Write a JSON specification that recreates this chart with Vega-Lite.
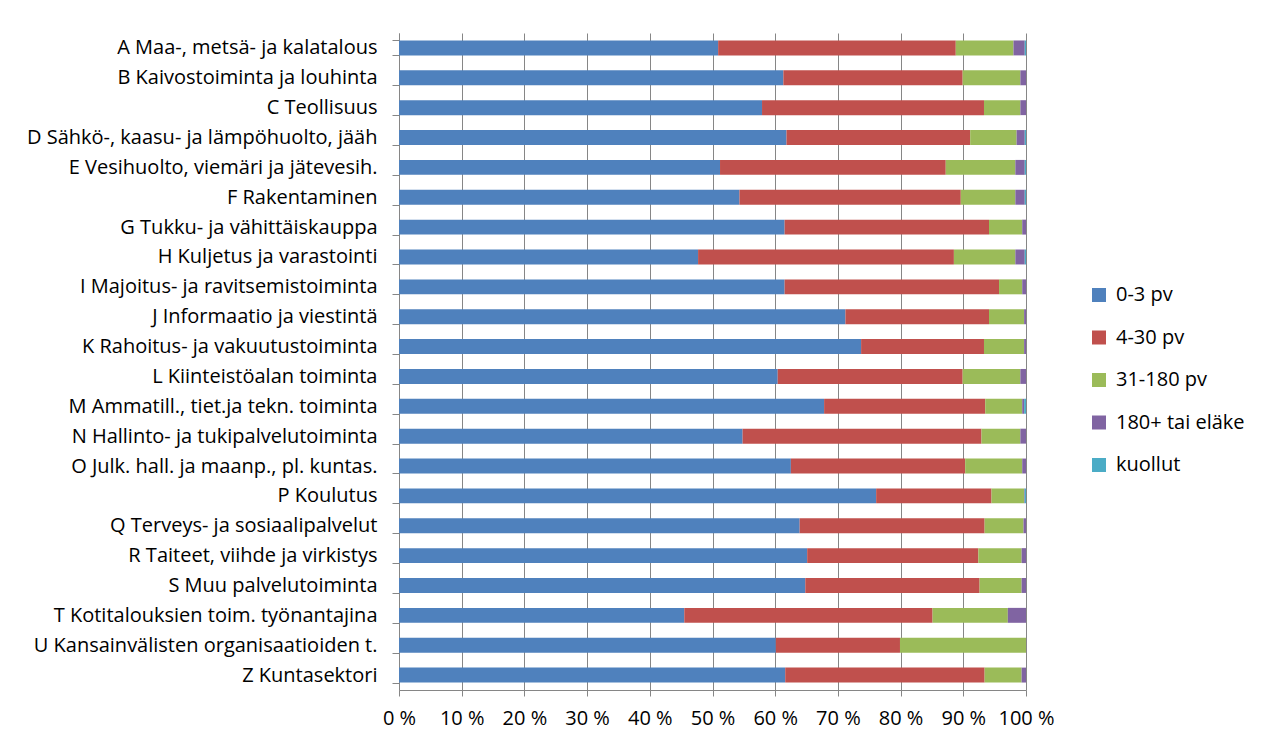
{
  "$schema": "https://vega.github.io/schema/vega-lite/v6.json",
  "autosize": {"type": "none"},
  "padding": {"left": 399, "top": 33, "right": 246, "bottom": 54},
  "width": 627,
  "height": 657,
  "background": "white",
  "config": {
    "view": {"stroke": null},
    "font": "Open Sans",
    "axis": {"labelFont": "Open Sans", "labelColor": "#000000", "labelFontSize": 20},
    "legend": {"labelFont": "Open Sans", "labelFontSize": 20, "labelColor": "#000000"}
  },
  "data": {
    "values": [
      {"c": "A Maa-, metsä- ja kalatalous", "0-3 pv": 50.9, "4-30 pv": 37.9, "31-180 pv": 9.2, "180+ tai eläke": 1.8, "kuollut": 0.2},
      {"c": "B Kaivostoiminta ja louhinta", "0-3 pv": 61.3, "4-30 pv": 28.6, "31-180 pv": 9.2, "180+ tai eläke": 0.9, "kuollut": 0.0},
      {"c": "C Teollisuus", "0-3 pv": 57.9, "4-30 pv": 35.4, "31-180 pv": 5.8, "180+ tai eläke": 0.9, "kuollut": 0.0},
      {"c": "D Sähkö-, kaasu- ja lämpöhuolto, jääh", "0-3 pv": 61.8, "4-30 pv": 29.3, "31-180 pv": 7.4, "180+ tai eläke": 1.3, "kuollut": 0.2},
      {"c": "E Vesihuolto, viemäri ja jätevesih.", "0-3 pv": 51.2, "4-30 pv": 36.0, "31-180 pv": 11.1, "180+ tai eläke": 1.5, "kuollut": 0.2},
      {"c": "F Rakentaminen", "0-3 pv": 54.3, "4-30 pv": 35.3, "31-180 pv": 8.7, "180+ tai eläke": 1.5, "kuollut": 0.2},
      {"c": "G Tukku- ja vähittäiskauppa", "0-3 pv": 61.5, "4-30 pv": 32.6, "31-180 pv": 5.3, "180+ tai eläke": 0.6, "kuollut": 0.0},
      {"c": "H Kuljetus ja varastointi", "0-3 pv": 47.7, "4-30 pv": 40.8, "31-180 pv": 9.8, "180+ tai eläke": 1.5, "kuollut": 0.2},
      {"c": "I Majoitus- ja ravitsemistoiminta", "0-3 pv": 61.5, "4-30 pv": 34.2, "31-180 pv": 3.7, "180+ tai eläke": 0.6, "kuollut": 0.0},
      {"c": "J Informaatio ja viestintä", "0-3 pv": 71.2, "4-30 pv": 22.9, "31-180 pv": 5.6, "180+ tai eläke": 0.3, "kuollut": 0.0},
      {"c": "K Rahoitus- ja vakuutustoiminta", "0-3 pv": 73.7, "4-30 pv": 19.6, "31-180 pv": 6.4, "180+ tai eläke": 0.3, "kuollut": 0.0},
      {"c": "L Kiinteistöalan toiminta", "0-3 pv": 60.4, "4-30 pv": 29.5, "31-180 pv": 9.2, "180+ tai eläke": 0.9, "kuollut": 0.0},
      {"c": "M Ammatill., tiet.ja tekn. toiminta", "0-3 pv": 67.8, "4-30 pv": 25.7, "31-180 pv": 5.9, "180+ tai eläke": 0.3, "kuollut": 0.3},
      {"c": "N Hallinto- ja tukipalvelutoiminta", "0-3 pv": 54.8, "4-30 pv": 38.1, "31-180 pv": 6.2, "180+ tai eläke": 0.9, "kuollut": 0.0},
      {"c": "O Julk. hall. ja maanp., pl. kuntas.", "0-3 pv": 62.5, "4-30 pv": 27.8, "31-180 pv": 9.1, "180+ tai eläke": 0.6, "kuollut": 0.0},
      {"c": "P Koulutus", "0-3 pv": 76.1, "4-30 pv": 18.4, "31-180 pv": 5.2, "180+ tai eläke": 0.1, "kuollut": 0.2},
      {"c": "Q Terveys- ja sosiaalipalvelut", "0-3 pv": 63.9, "4-30 pv": 29.5, "31-180 pv": 6.2, "180+ tai eläke": 0.4, "kuollut": 0.0},
      {"c": "R Taiteet, viihde ja virkistys", "0-3 pv": 65.1, "4-30 pv": 27.3, "31-180 pv": 6.9, "180+ tai eläke": 0.7, "kuollut": 0.0},
      {"c": "S Muu palvelutoiminta", "0-3 pv": 64.8, "4-30 pv": 27.8, "31-180 pv": 6.7, "180+ tai eläke": 0.7, "kuollut": 0.0},
      {"c": "T Kotitalouksien toim. työnantajina", "0-3 pv": 45.5, "4-30 pv": 39.6, "31-180 pv": 12.0, "180+ tai eläke": 2.9, "kuollut": 0.0},
      {"c": "U Kansainvälisten organisaatioiden t.", "0-3 pv": 60.1, "4-30 pv": 19.8, "31-180 pv": 20.1, "180+ tai eläke": 0.0, "kuollut": 0.0},
      {"c": "Z Kuntasektori", "0-3 pv": 61.6, "4-30 pv": 31.8, "31-180 pv": 5.9, "180+ tai eläke": 0.7, "kuollut": 0.0}
    ]
  },
  "transform": [
    {"fold": ["0-3 pv", "4-30 pv", "31-180 pv", "180+ tai eläke", "kuollut"], "as": ["luokka", "osuus"]},
    {"calculate": "indexof(['0-3 pv', '4-30 pv', '31-180 pv', '180+ tai eläke', 'kuollut'], datum.luokka)", "as": "jarjestys"}
  ],
  "mark": {"type": "bar"},
  "encoding": {
    "y": {
      "field": "c",
      "type": "nominal",
      "sort": null,
      "title": null,
      "scale": {"paddingInner": 0.5, "paddingOuter": 0.25},
      "axis": {
        "domainColor": "#868686",
        "tickColor": "#868686",
        "tickSize": 7,
        "tickBand": "extent",
        "labelPadding": 15,
        "labelLimit": 400,
        "grid": false
      }
    },
    "x": {
      "field": "osuus",
      "type": "quantitative",
      "stack": "normalize",
      "title": null,
      "scale": {"domain": [0, 1], "nice": false},
      "axis": {
        "values": [0, 0.1, 0.2, 0.3, 0.4, 0.5, 0.6, 0.7, 0.8, 0.9, 1],
        "labelExpr": "format(datum.value * 100, 'd') + ' %'",
        "domainColor": "#868686",
        "tickColor": "#868686",
        "tickSize": 6,
        "labelPadding": 12,
        "grid": true,
        "gridColor": "#868686",
        "gridWidth": 1,
        "labelFlush": false
      }
    },
    "color": {
      "field": "luokka",
      "type": "nominal",
      "title": null,
      "scale": {
        "domain": ["0-3 pv", "4-30 pv", "31-180 pv", "180+ tai eläke", "kuollut"],
        "range": ["#4F81BD", "#C0504D", "#9BBB59", "#8064A2", "#4BACC6"]
      },
      "legend": {
        "orient": "none",
        "legendX": 690,
        "legendY": 252,
        "symbolType": "square",
        "symbolSize": 196,
        "symbolStrokeWidth": 0,
        "labelFont": "Open Sans",
        "labelFontSize": 20,
        "labelColor": "#000000",
        "labelOffset": 7,
        "rowPadding": 22.5
      }
    },
    "order": {"field": "jarjestys", "type": "quantitative"}
  }
}
